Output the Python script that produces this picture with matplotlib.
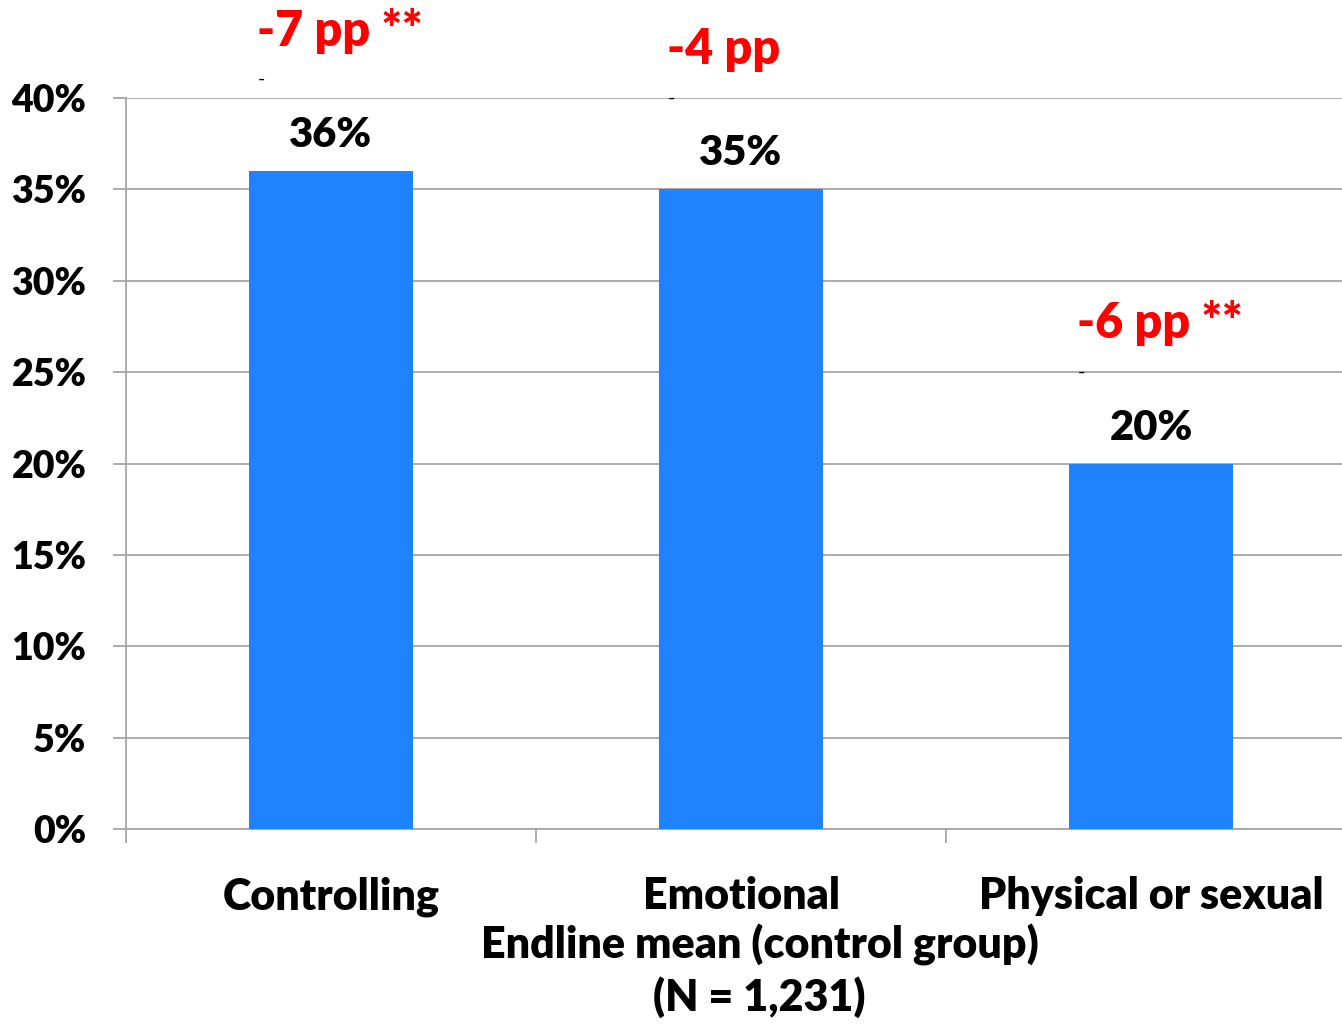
import matplotlib
matplotlib.use("Agg")
import matplotlib.pyplot as plt
import numpy as np

categories = ["Controlling", "Emotional", "Physical or sexual"]
endline_mean = [0.36, 0.35, 0.20]
value_labels = ["36%", "35%", "20%"]
effect_labels = ["-7 pp **", "-4 pp", "-6 pp **"]

plt.rcParams['font.family'] = ['Lato', 'DejaVu Sans']
plt.rcParams['font.weight'] = 'heavy'

grey = '#a6a6a6'

fig = plt.figure(figsize=(13.42, 10.25), dpi=100)
ax = fig.add_axes([126/1342, 196/1025, 1230/1342, 731/1025])

x = np.arange(len(categories))
bars = ax.bar(x, endline_mean, 0.4, color='#1f82ff', zorder=3)

ax.set_xlim(-0.5, len(categories) - 0.5)
ax.set_ylim(0, 0.40)
ax.set_yticks(np.arange(0, 0.41, 0.05))
ax.set_yticklabels(['{:.0f}%'.format(v * 100) for v in np.arange(0, 0.41, 0.05)], fontsize=27)
ax.yaxis.grid(True, color=grey, linewidth=1.3, zorder=0)

ax.set_xticks(x)
ax.set_xticklabels(categories, fontsize=31)
ax.set_xticks(np.arange(-0.5, len(categories)), minor=True)
ax.tick_params(axis='x', which='major', length=0, pad=34)
ax.tick_params(axis='x', which='minor', length=10, color=grey, width=1.3)
ax.tick_params(axis='y', length=9.5, color=grey, width=1.3, pad=19)

for side in ['top', 'right']:
    ax.spines[side].set_visible(False)
for side in ['left', 'bottom']:
    ax.spines[side].set_color(grey)
    ax.spines[side].set_linewidth(1.3)

for rect, val_lab, eff_lab in zip(bars, value_labels, effect_labels):
    cx = rect.get_x() + rect.get_width() / 2
    h = rect.get_height()
    ax.annotate(val_lab, xy=(cx, h), xytext=(0, 24), textcoords='offset pixels',
                ha='center', va='baseline', fontsize=30, color='black')
    ax.annotate(eff_lab, xy=(cx, h), xytext=(-74, 125), textcoords='offset pixels',
                ha='left', va='baseline', fontsize=35, color='#ff0000')
    ax.annotate('-', xy=(cx, h), xytext=(-73, 86), textcoords='offset pixels',
                ha='left', va='baseline', fontsize=14, fontweight='normal', color='black')

ax.set_xlabel('Endline mean (control group)\n(N = 1,231)', fontsize=31,
              fontweight='heavy', linespacing=1.3)
ax.xaxis.set_label_coords(0.515, -0.13)
ax.xaxis.label.set_va('top')

fig.savefig('out.png', dpi=100)
